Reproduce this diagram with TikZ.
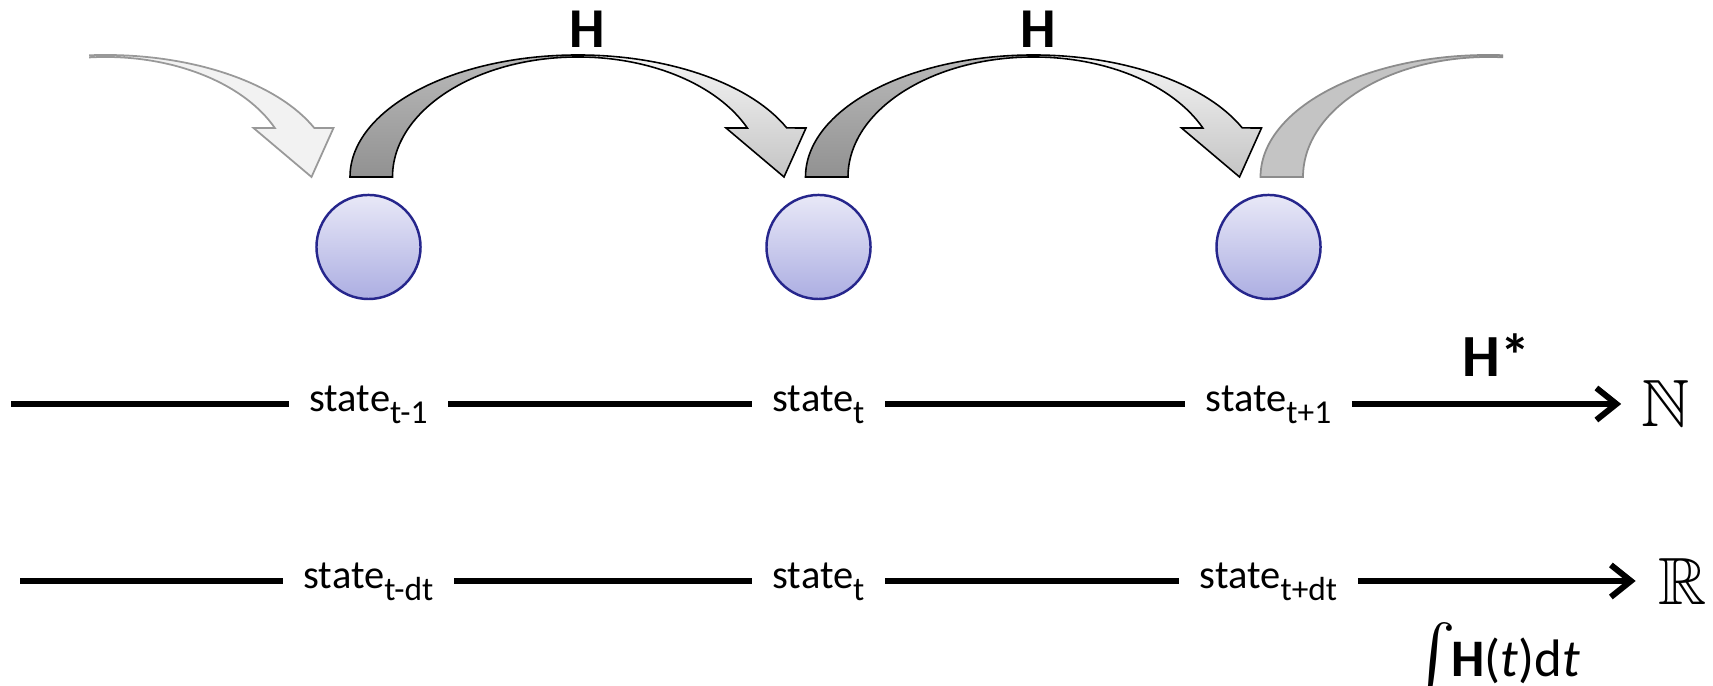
\documentclass[tikz,border=0pt]{standalone}
\usepackage{fontspec}
\setmainfont{Carlito}
\usepackage{amssymb}
\usetikzlibrary{arrows.meta}
\newcommand{\lowidx}[1]{\raisebox{-0.28em}{\fontsize{9.5}{10}\selectfont #1}}
\begin{document}
\begin{tikzpicture}[x=0.01cm,y=0.01cm,font=\fontsize{11.5}{13}\selectfont,
  backpart/.style={draw=black,line width=0.45pt,top color=black!27,bottom color=black!43},
  frontpart/.style={draw=black,line width=0.45pt,top color=black!4,bottom color=black!23},
  fadedfront/.style={draw=black!40,line width=0.5pt,fill=black!5},
  fadedback/.style={draw=black!45,line width=0.5pt,fill=black!23},
  stnode/.style={circle,draw=cirline,line width=0.7pt,minimum size=1.04cm,inner sep=0pt,top color=cirtop,bottom color=cirbot},
  lbl/.style={inner xsep=0.2cm,inner ysep=0pt,text height=0.75em,text depth=0.3em},
  tline/.style={line width=1.7pt},
  hlbl/.style={font=\fontsize{16}{18}\selectfont\bfseries}]
\definecolor{cirtop}{RGB}{232,232,247}
\definecolor{cirbot}{RGB}{172,174,226}
\definecolor{cirline}{RGB}{38,38,140}
\useasboundingbox (0,0) rectangle (1713,686);
% faded arrows at both ends
\begin{scope}
\clip (89,0) rectangle (1503,686);
\begin{scope}[shift={(105.5,509)}]
\filldraw[fadedfront] (180:228 and 122) arc[start angle=180,end angle=90,x radius=228,y radius=122] -- (90:185.5 and 120) arc[start angle=90,end angle=180,x radius=185.5,y radius=120] -- cycle;
\filldraw[fadedfront] (90:228 and 122) arc[start angle=90,end angle=23.7,x radius=228,y radius=122] -- (228,49) -- (206,0) -- (148,49) -- (24.1:185.5 and 120) arc[start angle=24.1,end angle=90,x radius=185.5,y radius=120] -- cycle;
\end{scope}
\begin{scope}[shift={(1488.5,509)}]
\filldraw[fadedback] (180:228 and 122) arc[start angle=180,end angle=90,x radius=228,y radius=122] -- (90:185.5 and 120) arc[start angle=90,end angle=180,x radius=185.5,y radius=120] -- cycle;
\filldraw[fadedback] (90:228 and 122) arc[start angle=90,end angle=23.7,x radius=228,y radius=122] -- (228,49) -- (206,0) -- (148,49) -- (24.1:185.5 and 120) arc[start angle=24.1,end angle=90,x radius=185.5,y radius=120] -- cycle;
\end{scope}
\end{scope}
% H arrows
\begin{scope}[shift={(578,509)}]
\path[backpart] (180:228 and 122) arc[start angle=180,end angle=90,x radius=228,y radius=122] -- (90:185.5 and 120) arc[start angle=90,end angle=180,x radius=185.5,y radius=120] -- cycle;
\path[frontpart] (90:228 and 122) arc[start angle=90,end angle=23.7,x radius=228,y radius=122] -- (228,49) -- (206,0) -- (148,49) -- (24.1:185.5 and 120) arc[start angle=24.1,end angle=90,x radius=185.5,y radius=120] -- cycle;
\end{scope}
\begin{scope}[shift={(1033.5,509)}]
\path[backpart] (180:228 and 122) arc[start angle=180,end angle=90,x radius=228,y radius=122] -- (90:185.5 and 120) arc[start angle=90,end angle=180,x radius=185.5,y radius=120] -- cycle;
\path[frontpart] (90:228 and 122) arc[start angle=90,end angle=23.7,x radius=228,y radius=122] -- (228,49) -- (206,0) -- (148,49) -- (24.1:185.5 and 120) arc[start angle=24.1,end angle=90,x radius=185.5,y radius=120] -- cycle;
\end{scope}
\node[hlbl] (hA) at (587,657) {H};
\node[hlbl] (hB) at (1038,657) {H};
% states
\node[stnode] (c1) at (368.5,439) {};
\node[stnode] (c2) at (818.5,439) {};
\node[stnode] (c3) at (1268.5,439) {};
% discrete time
\coordinate (n0) at (11,282);
\node[lbl] (n1) at (368.5,282) {state\lowidx{t-1}};
\node[lbl] (n2) at (818.5,282) {state\lowidx{t}};
\node[lbl] (n3) at (1268.5,282) {state\lowidx{t+1}};
\node[inner xsep=0.2cm] (nat) at (1666,282) {\fontsize{19}{20}\selectfont$\mathbb{N}$};
\draw[tline] (n0) -- (n1);
\draw[tline] (n1) -- (n2);
\draw[tline] (n2) -- (n3);
\draw[tline,-{Straight Barb[length=0.2cm,width=0.32cm]}] (n3) -- (nat);
\node[hlbl,font=\fontsize{17}{19}\selectfont\bfseries] (hstar) at (1496,331) {H*};
% continuous time
\coordinate (r0) at (20,105);
\node[lbl] (r1) at (368.5,105) {state\lowidx{t-dt}};
\node[lbl] (r2) at (818.5,105) {state\lowidx{t}};
\node[lbl] (r3) at (1268.5,105) {state\lowidx{t+dt}};
\node[inner xsep=0.22cm] (real) at (1682.5,105) {\fontsize{19}{20}\selectfont$\mathbb{R}$};
\draw[tline] (r0) -- (r1);
\draw[tline] (r1) -- (r2);
\draw[tline] (r2) -- (r3);
\draw[tline,-{Straight Barb[length=0.2cm,width=0.32cm]}] (r3) -- (real);
\node[anchor=base] (hint) at (1495,9) {\fontsize{15}{18}\selectfont\raisebox{-0.06em}{\fontsize{20}{21}\selectfont$\int$}\hspace{-0.1em}\textbf{H}(\textit{t})d\textit{t}};
\end{tikzpicture}
\end{document}
